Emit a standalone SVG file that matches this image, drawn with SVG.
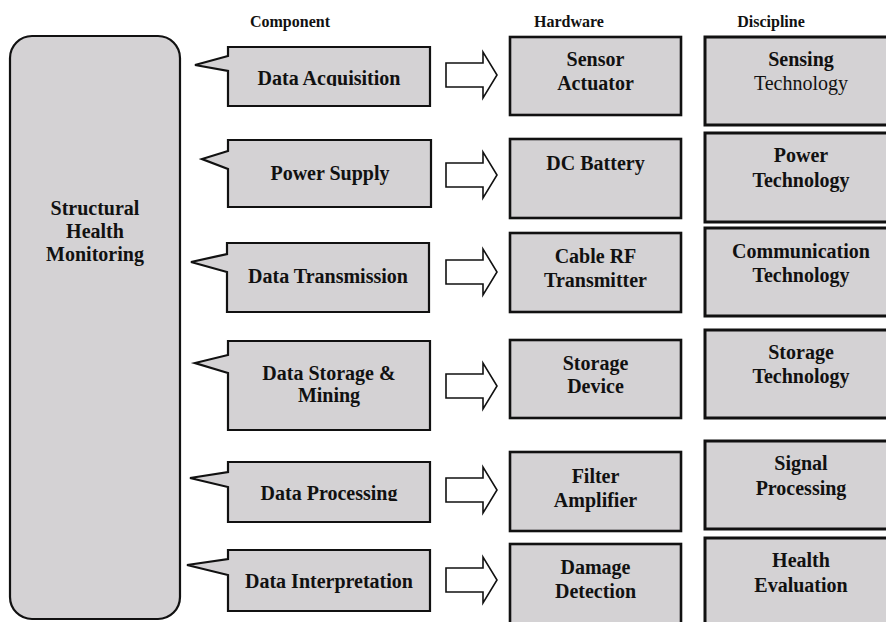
<svg xmlns="http://www.w3.org/2000/svg" xmlns:xlink="http://www.w3.org/1999/xlink" width="886" height="622" viewBox="0 0 886 622">
  <style>
    .box { fill: #d4d2d4; stroke: #111; stroke-width: 2.2; }
    .hw { fill: #d4d2d4; stroke: #111; stroke-width: 2.6; }
    .disc { fill: #d4d2d4; stroke: #111; stroke-width: 3; }
    .arrow { fill: #fff; stroke: #111; stroke-width: 1.6; stroke-linejoin: miter; }
    text { font-family: "Liberation Serif", "Times New Roman", serif; font-size: 20px; fill: #111; text-anchor: middle; }
    .b { font-weight: bold; }
    .hdr { font-weight: bold; font-size: 16px; }
  </style>
  <defs>
    <!-- block arrow centred on y=0 -->
    <path id="blockArrow" d="M446,-12 H483 V-23 L497,0 L483,23 V12 H446 Z"/>
    <clipPath id="clipAcq"><rect x="220" y="40" width="220" height="46"/></clipPath>
    <clipPath id="clipProc"><rect x="220" y="455" width="220" height="46"/></clipPath>
  </defs>

  <!-- column headers -->
  <g id="headers">
    <text class="hdr" x="290" y="27">Component</text>
    <text class="hdr" x="569" y="27">Hardware</text>
    <text class="hdr" x="771" y="27">Discipline</text>
  </g>

  <!-- root node -->
  <g id="shm">
    <rect class="box" x="10" y="36" width="170" height="583" rx="22"/>
    <text class="b" x="95" y="215">Structural</text>
    <text class="b" x="95" y="238">Health</text>
    <text class="b" x="95" y="261">Monitoring</text>
  </g>

  <!-- component callouts -->
  <g id="comp-acquisition">
    <path class="box" d="M228,47 H430 V106 H228 V71 L195,65 L228,56 Z"/>
    <text class="b" x="329" y="85" clip-path="url(#clipAcq)">Data Acquisition</text>
  </g>
  <g id="comp-power">
    <path class="box" d="M228,140 H431 V207 H228 V169 L202,159 L228,151 Z"/>
    <text class="b" x="330" y="180">Power Supply</text>
  </g>
  <g id="comp-transmission">
    <path class="box" d="M227,243 H429 V312 H227 V272 L191,262 L227,254 Z"/>
    <text class="b" x="328" y="283">Data Transmission</text>
  </g>
  <g id="comp-storage">
    <path class="box" d="M228,341 H430 V430 H228 V373 L195,363 L228,355 Z"/>
    <text class="b" x="329" y="380">Data Storage &amp;</text>
    <text class="b" x="329" y="402">Mining</text>
  </g>
  <g id="comp-processing">
    <path class="box" d="M228,462 H430 V522 H228 V487 L190,478 L228,472 Z"/>
    <text class="b" x="329" y="500" clip-path="url(#clipProc)">Data Processing</text>
  </g>
  <g id="comp-interpretation">
    <path class="box" d="M228,550 H430 V611 H228 V575 L187,565 L228,559 Z"/>
    <text class="b" x="329" y="588">Data Interpretation</text>
  </g>

  <!-- connectors: component to hardware -->
  <g id="connectors">
    <use xlink:href="#blockArrow" class="arrow" transform="translate(0,75)"/>
    <use xlink:href="#blockArrow" class="arrow" transform="translate(0,175)"/>
    <use xlink:href="#blockArrow" class="arrow" transform="translate(0,272)"/>
    <use xlink:href="#blockArrow" class="arrow" transform="translate(0,386)"/>
    <use xlink:href="#blockArrow" class="arrow" transform="translate(0,490)"/>
    <use xlink:href="#blockArrow" class="arrow" transform="translate(0,580)"/>
  </g>

  <!-- hardware column -->
  <g id="hw-sensor">
    <rect class="hw" x="510" y="37" width="171" height="78"/>
    <text class="b" x="595.5" y="66">Sensor</text>
    <text class="b" x="595.5" y="90">Actuator</text>
  </g>
  <g id="hw-battery">
    <rect class="hw" x="510" y="139" width="171" height="79"/>
    <text class="b" x="595.5" y="170">DC Battery</text>
  </g>
  <g id="hw-transmitter">
    <rect class="hw" x="510" y="233" width="171" height="79"/>
    <text class="b" x="595.5" y="263">Cable RF</text>
    <text class="b" x="595.5" y="287">Transmitter</text>
  </g>
  <g id="hw-storage">
    <rect class="hw" x="510" y="340" width="171" height="78"/>
    <text class="b" x="595.5" y="370">Storage</text>
    <text class="b" x="595.5" y="393">Device</text>
  </g>
  <g id="hw-filter">
    <rect class="hw" x="510" y="452" width="171" height="79"/>
    <text class="b" x="595.5" y="483">Filter</text>
    <text class="b" x="595.5" y="507">Amplifier</text>
  </g>
  <g id="hw-damage">
    <rect class="hw" x="510" y="544" width="171" height="90"/>
    <text class="b" x="595.5" y="574">Damage</text>
    <text class="b" x="595.5" y="598">Detection</text>
  </g>

  <!-- discipline column -->
  <g id="disc-sensing">
    <rect class="disc" x="705" y="37" width="200" height="88"/>
    <text class="b" x="801" y="66">Sensing</text>
    <text x="801" y="90">Technology</text>
  </g>
  <g id="disc-power">
    <rect class="disc" x="705" y="133" width="200" height="89"/>
    <text class="b" x="801" y="162">Power</text>
    <text class="b" x="801" y="187">Technology</text>
  </g>
  <g id="disc-communication">
    <rect class="disc" x="705" y="228" width="200" height="88"/>
    <text class="b" x="801" y="258">Communication</text>
    <text class="b" x="801" y="282">Technology</text>
  </g>
  <g id="disc-storage">
    <rect class="disc" x="705" y="330" width="200" height="88"/>
    <text class="b" x="801" y="359">Storage</text>
    <text class="b" x="801" y="383">Technology</text>
  </g>
  <g id="disc-signal">
    <rect class="disc" x="705" y="441" width="200" height="88"/>
    <text class="b" x="801" y="470">Signal</text>
    <text class="b" x="801" y="495">Processing</text>
  </g>
  <g id="disc-health">
    <rect class="disc" x="705" y="538" width="200" height="100"/>
    <text class="b" x="801" y="567">Health</text>
    <text class="b" x="801" y="592">Evaluation</text>
  </g>
</svg>
